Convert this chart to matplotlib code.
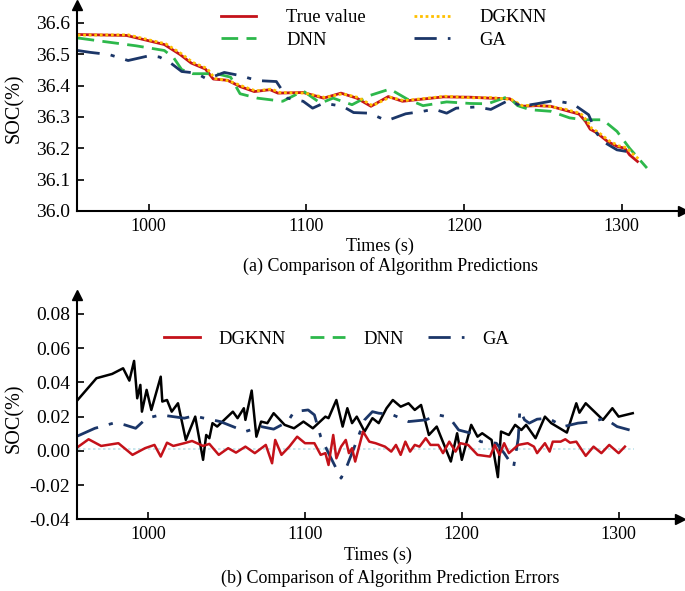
import matplotlib
matplotlib.use("Agg")
import matplotlib.pyplot as plt
from matplotlib.lines import Line2D

plt.rcParams['font.family'] = ['Liberation Serif', 'DejaVu Serif']
plt.rcParams['axes.unicode_minus'] = False

# ---- (a) predictions ----
t_true = [955, 986, 1010, 1020, 1027, 1036, 1041, 1050, 1058, 1067, 1077, 1082, 1098, 1111, 1122,
          1132, 1141, 1152, 1161, 1170, 1187, 1204, 1216, 1229, 1236, 1246, 1255, 1263, 1273, 1277,
          1280, 1284, 1291, 1297, 1302, 1305, 1310]
soc_true = [36.563, 36.560, 36.531, 36.499, 36.472, 36.453, 36.421, 36.417, 36.397, 36.381, 36.387,
            36.376, 36.378, 36.360, 36.376, 36.360, 36.334, 36.365, 36.350, 36.355, 36.364, 36.363,
            36.360, 36.358, 36.334, 36.336, 36.334, 36.323, 36.309, 36.286, 36.261, 36.250, 36.222,
            36.206, 36.200, 36.179, 36.158]

t_dgknn = [955, 987, 1011, 1021, 1028, 1037, 1042, 1051, 1059, 1068, 1078, 1083, 1099, 1112, 1123,
           1133, 1142, 1153, 1162, 1171, 1188, 1205, 1217, 1230, 1237, 1247, 1256, 1264, 1274, 1278,
           1281, 1285, 1292, 1298, 1303, 1307, 1311]
soc_dgknn = [36.561, 36.562, 36.533, 36.501, 36.474, 36.455, 36.423, 36.415, 36.399, 36.383, 36.389,
             36.378, 36.376, 36.362, 36.374, 36.362, 36.336, 36.363, 36.352, 36.357, 36.366, 36.361,
             36.362, 36.356, 36.336, 36.338, 36.332, 36.325, 36.311, 36.288, 36.263, 36.252, 36.224,
             36.208, 36.202, 36.182, 36.165]

t_dnn = [955, 971, 992, 1010, 1016, 1021, 1028, 1043, 1052, 1058, 1069, 1085, 1098, 1109, 1117, 1129,
         1140, 1153, 1164, 1174, 1189, 1204, 1215, 1228, 1234, 1242, 1255, 1267, 1276, 1288, 1297,
         1305, 1316]
soc_dnn = [36.552, 36.541, 36.527, 36.512, 36.488, 36.451, 36.438, 36.438, 36.427, 36.374, 36.360,
           36.350, 36.383, 36.344, 36.360, 36.339, 36.368, 36.389, 36.357, 36.336, 36.348, 36.343,
           36.342, 36.365, 36.336, 36.323, 36.318, 36.297, 36.291, 36.291, 36.254, 36.200, 36.137]

t_ga = [955, 963, 975, 987, 1001, 1007, 1014, 1021, 1030, 1037, 1048, 1058, 1069, 1081, 1088, 1098,
        1104, 1111, 1123, 1130, 1140, 1151, 1163, 1174, 1181, 1189, 1195, 1208, 1217, 1229, 1236,
        1246, 1257, 1269, 1279, 1284, 1288, 1297, 1303, 1309]
soc_ga = [36.512, 36.506, 36.499, 36.480, 36.496, 36.491, 36.472, 36.445, 36.440, 36.421, 36.442,
          36.432, 36.416, 36.413, 36.360, 36.350, 36.328, 36.344, 36.334, 36.314, 36.312, 36.288,
          36.310, 36.318, 36.325, 36.312, 36.328, 36.332, 36.324, 36.355, 36.334, 36.342, 36.352,
          36.342, 36.307, 36.249, 36.222, 36.195, 36.190, 36.182]

# ---- (b) errors ----
t_err_dnn = [955, 967, 977, 984, 988, 991, 993, 995, 996, 999, 1002, 1008, 1009, 1012, 1015, 1019,
             1024, 1030, 1035, 1037, 1039, 1041, 1044, 1054, 1057, 1061, 1062, 1066, 1069, 1072, 1076,
             1080, 1087, 1093, 1099, 1105, 1113, 1115, 1120, 1124, 1127, 1130, 1133, 1138, 1143, 1147,
             1152, 1156, 1161, 1166, 1170, 1174, 1179, 1184, 1193, 1197, 1200, 1206, 1210, 1213, 1219,
             1223, 1225, 1230, 1234, 1238, 1241, 1247, 1253, 1257, 1267, 1273, 1275, 1279, 1290, 1296,
             1300, 1309]
err_dnn = [0.0297, 0.0424, 0.0449, 0.0482, 0.0410, 0.0525, 0.0307, 0.0385, 0.0229, 0.0356, 0.0239,
           0.0433, 0.0288, 0.0297, 0.0229, 0.0278, 0.0064, 0.0200, -0.0052, 0.0093, 0.0074, 0.0162,
           0.0142, 0.0229, 0.0191, 0.0249, 0.0181, 0.0352, 0.0083, 0.0171, 0.0162, 0.0220, 0.0152,
           0.0132, 0.0171, 0.0132, 0.0200, 0.0191, 0.0297, 0.0142, 0.0249, 0.0162, 0.0200, 0.0113,
           0.0191, 0.0162, 0.0249, 0.0297, 0.0258, 0.0278, 0.0239, 0.0268, 0.0093, 0.0142, -0.0062,
           0.0103, -0.0052, 0.0152, 0.0083, 0.0103, 0.0064, -0.0153, 0.0113, 0.0093, 0.0152, 0.0122,
           0.0152, 0.0074, 0.0200, 0.0162, 0.0107, 0.0278, 0.0223, 0.0278, 0.0181, 0.0249, 0.0200,
           0.0220]

t_err_dgknn = [955, 962, 970, 981, 990, 998, 1004, 1008, 1012, 1016, 1023, 1028, 1035, 1039, 1045,
               1051, 1056, 1062, 1068, 1075, 1079, 1081, 1085, 1090, 1095, 1100, 1106, 1110, 1113,
               1115, 1118, 1120, 1123, 1126, 1128, 1130, 1132, 1137, 1141, 1145, 1151, 1155, 1158,
               1161, 1164, 1167, 1170, 1173, 1177, 1180, 1185, 1188, 1192, 1196, 1199, 1204, 1210,
               1218, 1221, 1224, 1227, 1230, 1236, 1242, 1246, 1248, 1253, 1256, 1258, 1263, 1266,
               1269, 1273, 1279, 1284, 1289, 1294, 1300, 1304]
err_dgknn = [0.0022, 0.0068, 0.0029, 0.0045, -0.0023, 0.0016, 0.0035, -0.0033, 0.0048, 0.0029,
             0.0045, 0.0058, 0.0029, 0.0041, -0.0023, 0.0016, -0.0010, 0.0025, -0.0013, 0.0035,
             -0.0072, 0.0064, -0.0023, 0.0025, 0.0083, 0.0045, 0.0045, -0.0023, -0.0013, -0.0082,
             0.0093, -0.0043, 0.0025, 0.0064, -0.0013, 0.0016, -0.0062, 0.0113, 0.0054, 0.0045,
             0.0025, -0.0004, 0.0035, -0.0023, 0.0054, -0.0004, 0.0035, 0.0025, 0.0074, 0.0035,
             0.0035, -0.0013, 0.0054, -0.0004, 0.0045, 0.0035, -0.0023, -0.0033, 0.0035, -0.0023,
             0.0045, -0.0013, 0.0035, 0.0045, 0.0025, -0.0013, 0.0045, -0.0004, 0.0054, 0.0054,
             0.0068, 0.0048, 0.0054, -0.0029, 0.0025, -0.0013, 0.0035, -0.0013, 0.0025]

t_err_ga = [955, 966, 979, 985, 992, 999, 1008, 1023, 1029, 1046, 1062, 1072, 1080, 1089, 1093, 1102,
            1106, 1110, 1115, 1123, 1127, 1132, 1138, 1143, 1147, 1155, 1166, 1177, 1185, 1190, 1194,
            1198, 1206, 1212, 1222, 1227, 1233, 1236, 1237, 1240, 1243, 1248, 1255, 1265, 1274, 1284,
            1291, 1299, 1307]
err_ga = [0.0087, 0.0132, 0.0165, 0.0152, 0.0132, 0.0191, 0.0210, 0.0191, 0.0204, 0.0171, 0.0113,
          0.0142, 0.0127, 0.0171, 0.0229, 0.0239, 0.0210, 0.0083, -0.0013, -0.0159, -0.0082, 0.0035,
          0.0181, 0.0229, 0.0220, 0.0214, 0.0171, 0.0181, 0.0210, 0.0200, 0.0171, 0.0122, 0.0103,
          0.0054, 0.0045, -0.0013, -0.0095, 0.0074, 0.0239, 0.0181, 0.0162, 0.0185, 0.0191, 0.0142,
          0.0162, 0.0171, 0.0191, 0.0142, 0.0122]

t_zero = [955, 1310]
zero_line = [0.001, 0.001]

RED = '#c4121a'
YEL = '#ffc000'
GRN = '#2db84b'
NAVY = '#1b3668'

fig = plt.figure(figsize=(6.85, 5.91), dpi=100)
ax = fig.add_axes([0.1124, 0.643, 0.885, 0.349])
ax2 = fig.add_axes([0.1124, 0.121, 0.880, 0.380])


def style(a):
    for s in ['top', 'right']:
        a.spines[s].set_visible(False)
    for s in ['left', 'bottom']:
        a.spines[s].set_linewidth(1.5)
    a.tick_params(direction='in', length=5, width=1.2, labelsize=13, pad=5)
    a.tick_params(axis='y', labelsize=14)
    a.plot(1, 0, '>', color='k', ms=7, transform=a.transAxes, clip_on=False)
    a.plot(0, 1, '^', color='k', ms=7, transform=a.transAxes, clip_on=False)
    a.set_xlim(954.6, 1339)
    a.set_xticks([1000, 1100, 1200, 1300])


style(ax)
ax.plot(t_true, soc_true, color=RED, lw=2.0, label='True value')
ax.plot(t_dnn, soc_dnn, color=GRN, lw=2.0, dashes=(6, 3), label='DNN')
ax.plot(t_dgknn, soc_dgknn, color=YEL, lw=2.0, dashes=(1, 1), label='DGKNN')
ax.plot(t_ga, soc_ga, color=NAVY, lw=2.0, dashes=(8, 4, 1.5, 4), label='GA')
ax.set_ylim(36.0, 36.658)
ax.set_yticks([36.0, 36.1, 36.2, 36.3, 36.4, 36.5, 36.6])
ax.set_yticklabels(['36.0', '36.1', '36.2', '36.3', '36.4', '36.5', '36.6'])
ax.set_xlabel('Times (s)', fontsize=13, labelpad=2)
ax.set_ylabel('SOC(%)', fontsize=14.5)
ax.yaxis.set_label_coords(-0.088, 0.5)
ax.legend(ncol=2, frameon=False, fontsize=13.4,
          loc='upper left', bbox_to_anchor=(0.21, 1.06), handlelength=1.9, handletextpad=1.6,
          columnspacing=2.6, labelspacing=0.3)

style(ax2)
ax2.plot(t_zero, zero_line, color='#bfe3ea', lw=1.2, dashes=(1.5, 1.5))
ax2.plot(t_err_dnn, err_dnn, color='black', lw=1.8)
ax2.plot(t_err_ga, err_ga, color=NAVY, lw=2.0, dashes=(8, 4, 1.5, 4))
ax2.plot(t_err_dgknn, err_dgknn, color=RED, lw=1.8)
ax2.set_ylim(-0.04, 0.091)
ax2.set_yticks([-0.04, -0.02, 0.0, 0.02, 0.04, 0.06, 0.08])
ax2.set_yticklabels(['-0.04', '-0.02', '0.00', '0.02', '0.04', '0.06', '0.08'])
ax2.set_xlabel('Times (s)', fontsize=13, labelpad=2)
ax2.set_ylabel('SOC(%)', fontsize=14.5)
ax2.yaxis.set_label_coords(-0.088, 0.45)
leg_handles = [Line2D([], [], color=RED, lw=2.0),
               Line2D([], [], color=GRN, lw=2.0, dashes=(5, 3)),
               Line2D([], [], color=NAVY, lw=2.0, dashes=(8, 4, 1.5, 4))]
ax2.legend(leg_handles, ['DGKNN', 'DNN', 'GA'], ncol=3, frameon=False, fontsize=13.4,
           loc='upper left', bbox_to_anchor=(0.117, 0.915), handlelength=1.9, handletextpad=1.0,
           columnspacing=1.3)

fig.text(0.57, 0.55, '(a) Comparison of Algorithm Predictions', ha='center', va='center', fontsize=13)
fig.text(0.57, 0.022, '(b) Comparison of Algorithm Prediction Errors', ha='center', va='center',
         fontsize=13)

fig.savefig('out.png', dpi=100)
